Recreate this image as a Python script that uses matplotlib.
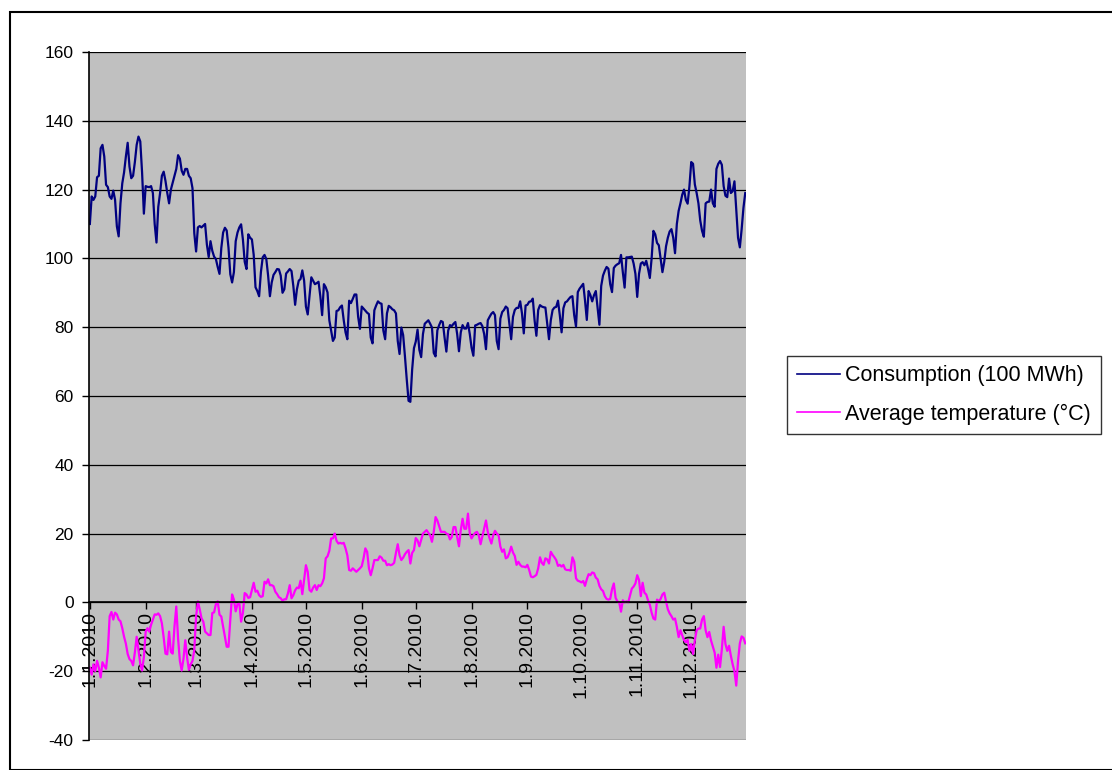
import numpy as np
import pandas as pd
import matplotlib
matplotlib.use("Agg")
import matplotlib.pyplot as plt
from matplotlib.patches import Rectangle

# daily values for 2010
consumption = [
    110, 118, 117, 118, 123.6, 124, 132, 133, 129.6, 121.4,
    120.7, 118, 117.3, 119.7, 117, 109.3, 106.4, 116, 121.8, 125,
    129.6, 133.6, 126.7, 123.3, 124, 128, 133, 135.4, 134, 125,
    113, 121, 120.8, 120.7, 121, 119, 110, 104.6, 115, 119,
    124, 125.2, 122.5, 119, 116, 120, 122, 124, 126, 130,
    129, 125.5, 124.3, 126, 126, 124, 123.3, 120.4, 107.3, 102,
    109, 109.4, 109, 109.5, 110, 104, 100.4, 105, 102.2, 100.5,
    99.8, 97.5, 95.5, 103, 107.5, 108.9, 108.1, 103.1, 95.4, 93,
    96, 105, 107.5, 109, 109.9, 105.5, 99, 96.9, 107, 106,
    105.5, 101, 91.6, 90.5, 89, 96, 100.3, 101, 99.8, 95,
    89, 93, 95.2, 96, 96.9, 96.8, 95, 90, 91, 95.6,
    96.2, 96.9, 96.3, 92, 86.5, 91, 93.5, 94, 96.5, 93.5,
    86, 83.7, 89, 94.5, 93.5, 92.5, 92.8, 93.2, 89, 83.5,
    92.5, 91.6, 90.1, 82, 79, 76, 77, 84.7, 84.9, 85.8,
    86.3, 82, 78.5, 76.5, 87.7, 87, 88.2, 89.5, 89.5, 83,
    79.5, 86, 85.4, 84.8, 84.2, 83.8, 77, 75.3, 84.9, 86.3,
    87.5, 87, 86.8, 79, 76.5, 84, 86.2, 85.8, 85.2, 84.9,
    84, 76, 72.2, 79.9, 77.7, 71.5, 64.8, 58.6, 58.3, 67.7,
    73.9, 75.8, 79.3, 73.4, 71.3, 78, 81, 81.5, 82, 81,
    79.9, 72.5, 71.5, 79.1, 80.6, 81.8, 81.5, 77, 72.9, 79,
    80.6, 80.3, 81, 81.5, 78, 73, 78.5, 80.6, 79.6, 79.6,
    81.2, 78, 74, 71.7, 80.5, 80.7, 81, 81.2, 80.3, 78,
    73.6, 82, 83, 83.9, 84.4, 83.5, 76, 73.6, 82.5, 84.4,
    85, 86, 85.5, 81, 76.5, 83, 85, 85.6, 85.6, 87.5,
    84, 78.2, 86.3, 86.5, 87.4, 87.5, 88.3, 82, 77.5, 85,
    86.4, 86, 85.8, 85.7, 81, 76.5, 82, 85, 85.7, 85.9,
    87.7, 83.5, 78.5, 85.5, 87.2, 87.5, 88.2, 88.8, 89, 83.5,
    80.2, 90.2, 91.2, 91.9, 92.6, 87.8, 82.1, 90.5, 89.3, 87.5,
    89.3, 90.5, 85.5, 80.7, 92, 95, 96.4, 97.5, 97, 92.5,
    90.2, 97.2, 97.9, 98.3, 98.6, 101, 96, 91.5, 100.3, 100.3,
    100.4, 100.5, 98.5, 95.5, 88.8, 95.5, 98.5, 98.9, 98, 99.3,
    97, 94.3, 100, 108, 107, 104.5, 103.8, 100, 96, 99,
    103.5, 106, 107.8, 108.5, 106, 101.5, 110, 113.8, 116, 118.5,
    120, 117, 115.9, 121, 128, 127.5, 121.5, 119, 116, 111,
    108, 106.3, 116, 116.4, 116.5, 120, 116, 115, 126, 127.5,
    128.3, 127.2, 121, 118.2, 117.8, 123.2, 119, 119.5, 122.4, 114,
    106, 103.2, 108.5, 114.7, 119,
]

temperature = [
    -19, -21, -18, -20, -17, -19, -21.8, -17.4, -18.5, -19.3,
    -14, -4, -2.8, -5, -3, -3.5, -5, -5.5, -7.5, -10,
    -12, -15, -16.5, -17, -18.3, -14.5, -10, -13.9, -17.8, -19.8,
    -15.9, -8.5, -7.5, -8.5, -6.5, -5, -3.5, -3.6, -3.2, -4,
    -6.1, -10.2, -14.9, -15.1, -8.5, -14.4, -14.9, -7, -1.2, -10.5,
    -17, -19.8, -16.4, -11, -16, -19.6, -18, -17, -13.9, -4.1,
    0.3, -2, -4.6, -5.6, -8.5, -9, -9.5, -9.5, -3.1, -2.9,
    -0.5, 0.3, -3.6, -4.1, -7, -9.8, -12.9, -12.9, -5, 2.3,
    0.8, -2.6, -0.5, -0.2, -5.6, -3.1, 2.7, 2.3, 1.3, 1.5,
    3.6, 5.7, 3.1, 3.4, 2.1, 1.6, 1.8, 6, 5.5, 6.7,
    5, 5, 4.7, 3.1, 2.4, 1.5, 1.2, 0.5, 0.9, 0.9,
    2.6, 5, 1.2, 2.1, 3.5, 4.3, 4.1, 6.3, 2.4, 6.7,
    10.8, 8.9, 3.6, 3.1, 4.3, 5, 3.6, 5, 4.7, 5.5,
    7, 12.8, 13.4, 15, 18.6, 18.6, 20, 17.9, 17.1, 17.3,
    17.1, 17.3, 15.7, 13.7, 9.4, 9.2, 9.9, 9.4, 8.9, 9.4,
    9.9, 10.5, 12.8, 15.7, 14.7, 9.9, 7.9, 9.9, 12.3, 12.3,
    12.3, 13.4, 13, 12.1, 12.1, 10.8, 11.1, 10.8, 11, 11.5,
    14.4, 16.9, 13.7, 12.3, 13, 14, 14.7, 15.2, 11.3, 14.4,
    15.2, 18.7, 18, 16.3, 18.1, 20, 20.5, 21, 20.2, 19.5,
    17.6, 20.5, 24.8, 23.8, 22.1, 20.5, 20.5, 20.5, 20, 19.8,
    18.3, 19, 21.9, 21.9, 19, 16.3, 21, 24.3, 21.4, 21.4,
    25.8, 20, 18.6, 19.5, 20.2, 20.5, 19.5, 16.9, 19.2, 21.4,
    23.8, 20.5, 18.6, 17.1, 19.5, 20.8, 20, 19.5, 16.2, 14.7,
    15.4, 12.8, 13.1, 14.4, 16.2, 14.5, 13.5, 10.9, 11.8, 10.9,
    10.4, 10.4, 10.2, 10.9, 9.4, 7.5, 7.3, 7.6, 8, 9.9,
    13.1, 11.5, 10.9, 12.8, 12.5, 11.3, 14.7, 13.8, 13.1, 12.3,
    10.6, 10.9, 10.4, 10.9, 9.6, 9.4, 9.4, 9.2, 13.1, 11.8,
    7, 6.3, 6.1, 5.8, 6.2, 4.8, 6.7, 8.2, 7.9, 8.7,
    8.5, 7.2, 6.7, 4.8, 3.8, 3.3, 1.8, 1, 0.8, 1,
    3.8, 5.5, 1.3, 0.3, 0, -2.7, 0.6, 0, 0.3, 0,
    2, 4, 4.6, 5.5, 7.9, 6.5, 1.8, 5.7, 2.8, 2.3,
    0.6, -0.7, -3, -4.7, -5, 0.8, 0.3, 1, 2.3, 2.8,
    0.3, -2, -3.2, -4, -5, -4.7, -7.1, -10.1, -8.1, -9.6,
    -11, -11.6, -10.9, -14.1, -12.1, -15, -11, -8.1, -7.6, -7.6,
    -5, -4, -8.1, -10.1, -8.6, -11.1, -12.9, -14.6, -19, -15.2,
    -18.8, -13.6, -7.1, -12.1, -14.1, -12.6, -15.5, -18, -20, -24.2,
    -17, -11.9, -9.9, -10.3, -11.9,
]

month_labels = ["1.1.2010", "1.2.2010", "1.3.2010", "1.4.2010", "1.5.2010", "1.6.2010",
                "1.7.2010", "1.8.2010", "1.9.2010", "1.10.2010", "1.11.2010", "1.12.2010"]
y_ticks = [-40, -20, 0, 20, 40, 60, 80, 100, 120, 140, 160]

dates = pd.date_range("2010-01-01", periods=len(consumption), freq="D")
month_starts = pd.date_range("2010-01-01", periods=len(month_labels), freq="MS")

plt.rcParams["font.family"] = ["Liberation Sans", "DejaVu Sans"]
plt.rcParams["axes.unicode_minus"] = False

fig = plt.figure(figsize=(11.12, 7.7), dpi=100)
ax = fig.add_axes([0.080, 0.039, 0.591, 0.8935])
ax.set_facecolor("#C0C0C0")

# Excel style border round the whole chart
fig.patches.append(Rectangle((0.009, 0.0), 0.995, 0.9844, transform=fig.transFigure,
                             fill=False, edgecolor="black", linewidth=1.5))

for yv in y_ticks:
    ax.axhline(yv, color="black", linewidth=0.9, zorder=0.5)

ax.plot(dates, consumption, color="#000080", linewidth=1.6, label="Consumption (100 MWh)", zorder=2)
ax.plot(dates, temperature, color="#FF00FF", linewidth=1.6, label="Average temperature (°C)", zorder=2)

ax.set_ylim(-40, 160)
ax.set_yticks(y_ticks)
ax.set_xlim(dates[0] - pd.Timedelta(hours=12), dates[-1] + pd.Timedelta(hours=12))
ax.set_xticks(month_starts)
ax.set_xticklabels(month_labels)
ax.tick_params(axis="y", labelsize=12.5, length=5, width=1, direction="out", pad=6)
ax.tick_params(axis="x", labelsize=14, labelrotation=90, length=5, width=1, direction="out", pad=1)

ax.spines["bottom"].set_position(("data", 0))
ax.spines["top"].set_visible(False)
ax.spines["right"].set_visible(False)
ax.spines["left"].set_linewidth(1.2)
ax.spines["bottom"].set_linewidth(1.2)

leg = fig.legend(loc="center left", bbox_to_anchor=(0.7077, 0.487), fontsize=15.5,
                 frameon=True, fancybox=False, edgecolor="black", handlelength=2.0,
                 handletextpad=0.25, borderpad=0.45, labelspacing=0.8, borderaxespad=0)
leg.get_frame().set_linewidth(1.0)
for line in leg.get_lines():
    line.set_linewidth(1.2)

fig.savefig("out.png", dpi=100)
